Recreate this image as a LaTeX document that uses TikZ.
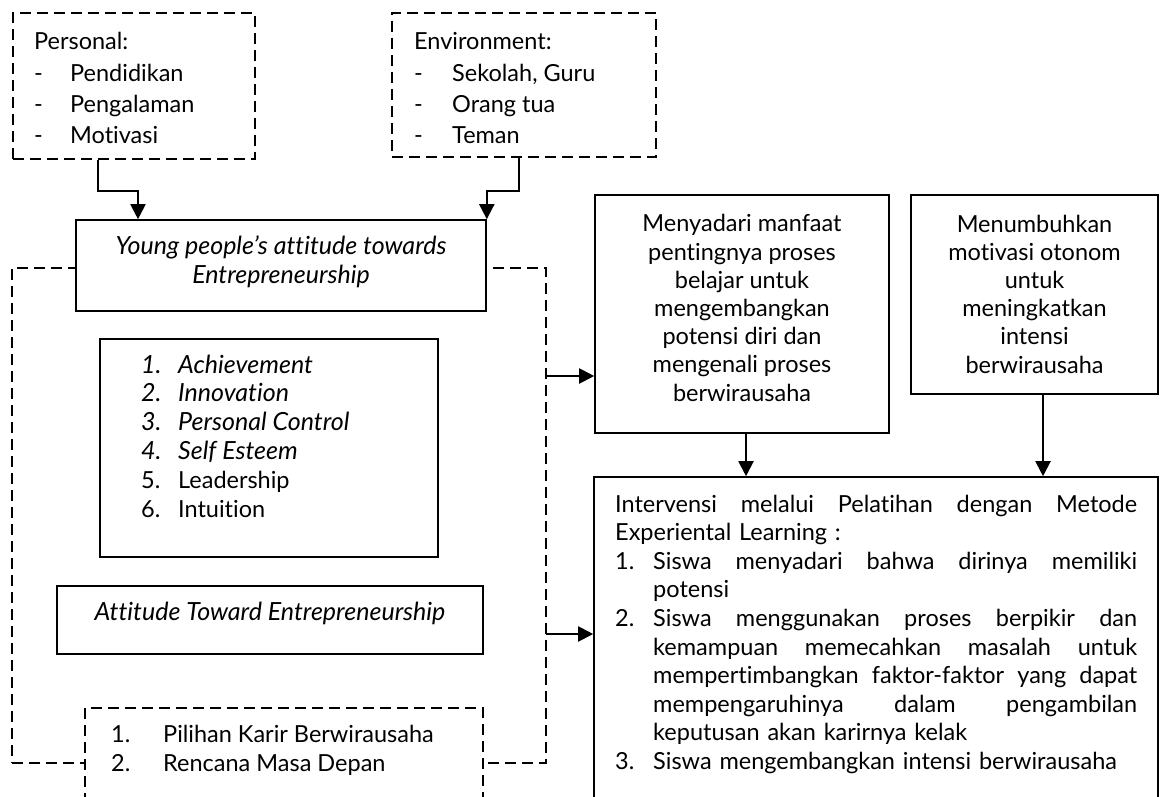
\documentclass[tikz,border=0pt]{standalone}
\usepackage{fontspec}
\setmainfont{Lato}[Ligatures=NoCommon]
\usetikzlibrary{arrows.meta,positioning}
\newcommand{\boxwidth}{1.6pt}
\newcommand{\arrwidth}{2pt}
\newcommand{\numcol}[2]{\makebox[#1][l]{#2}}
\newcommand{\jline}[2]{{\spaceskip=0.28em plus 1fil\makebox[#1][s]{#2}}}
\newcommand{\itsize}{\fontsize{25}{28.8}\selectfont\itshape}

\tikzset{
  frame/.style={draw, line width=\boxwidth, fill=white, inner sep=0pt},
  dframe/.style={draw, line width=2.2pt, dash pattern=on 11pt off 6pt, fill=white, inner sep=0pt},
  txt/.style={inner sep=0pt, font=\fontsize{23.5}{28.6}\selectfont},
  toptxt/.style={txt, font=\fontsize{23.5}{31}\selectfont},
  arr/.style={line width=\arrwidth, -{Triangle[width=15pt,length=15pt]}},
}

\begin{document}
\begin{tikzpicture}[x=1pt, y=-1pt]
\useasboundingbox (0,0) rectangle (1161,797);
\clip (0,0) rectangle (1161,797);
%outer loop
\node[dframe, fill=none, minimum width=534pt, minimum height=495pt] (loop) at (279,515.5) {};
%left column
\node[dframe, minimum width=242pt, minimum height=146pt] (personal) at (134,86) {};
\node[toptxt, align=left, anchor=base west] (personaltxt) at (34,143)
  {Personal:\\ \numcol{36pt}{-}Pendidikan\\ \numcol{36pt}{-}Pengalaman\\ \numcol{36pt}{-}Motivasi};
\node[dframe, minimum width=264pt, minimum height=144pt] (env) at (524,85) {};
\node[toptxt, align=left, anchor=base west] (envtxt) at (414,143)
  {Environment:\\ \numcol{38pt}{-}Sekolah, Guru\\ \numcol{38pt}{-}Orang tua\\ \numcol{38pt}{-}Teman};
\node[frame, minimum width=410pt, minimum height=91pt] (young) at (281,265.5) {};
\node[txt, align=center, anchor=base, font=\itsize] (youngtxt) at (281,283)
  {Young people's attitude towards\\ Entrepreneurship};
\node[frame, minimum width=338pt, minimum height=218pt] (achieve) at (269,448) {};
\node[txt, align=left, anchor=base west, font=\fontsize{23.5}{28.8}\selectfont] (achievetxt) at (141,517)
  {{\itsize\numcol{37pt}{1.}Achievement}\\ {\itsize\numcol{37pt}{2.}Innovation}\\
   {\itsize\numcol{37pt}{3.}Personal Control}\\ {\itsize\numcol{37pt}{4.}Self Esteem}\\
   \numcol{37pt}{5.}Leadership\\ \numcol{37pt}{6.}Intuition};
\node[frame, minimum width=426pt, minimum height=68pt] (attitude) at (270,620) {};
\node[txt, anchor=base, font=\itsize] (attitudetxt) at (270,620) {Attitude Toward Entrepreneurship};
\node[dframe, minimum width=398pt, minimum height=122pt] (pilihan) at (284,769) {};
\node[txt, align=left, anchor=base west] (pilihantxt) at (111,771)
  {\numcol{52pt}{1.}Pilihan Karir Berwirausaha\\ \numcol{52pt}{2.}Rencana Masa Depan};
%right column
\node[frame, minimum width=294pt, minimum height=238pt] (menyadari) at (742,314) {};
\node[txt, align=center, anchor=base, font=\fontsize{23.5}{28.2}\selectfont] (menyadaritxt) at (742,401)
  {Menyadari manfaat\\ pentingnya proses\\ belajar untuk\\ mengembangkan\\ potensi diri dan\\ mengenali proses\\ berwirausaha};
\node[frame, minimum width=247pt, minimum height=199pt] (menumbuhkan) at (1034.5,294.5) {};
\node[txt, align=center, anchor=base, font=\fontsize{23.5}{28.2}\selectfont] (menumbuhkantxt) at (1034.5,373)
  {Menumbuhkan\\ motivasi otonom\\ untuk\\ meningkatkan\\ intensi\\ berwirausaha};
\node[frame, minimum width=564pt, minimum height=353pt] (interv) at (876,653.5) {};
\node[txt, align=left, anchor=base west, text width=522pt] (intervtxt) at (615,512)
  {\jline{522pt}{Intervensi melalui Pelatihan dengan Metode}\\
   Experiental Learning :\\
   \numcol{38pt}{1.}\jline{484pt}{Siswa menyadari bahwa dirinya memiliki}\\
   \hspace*{38pt}potensi\\
   \numcol{38pt}{2.}\jline{484pt}{Siswa menggunakan proses berpikir dan}\\
   \hspace*{38pt}\jline{484pt}{kemampuan memecahkan masalah untuk}\\
   \hspace*{38pt}\jline{484pt}{mempertimbangkan faktor-faktor yang dapat}\\
   \hspace*{38pt}\jline{484pt}{mempengaruhinya dalam pengambilan}\\
   \hspace*{38pt}keputusan akan karirnya kelak\\
   \numcol{38pt}{3.}Siswa mengembangkan intensi berwirausaha};
%connectors
\coordinate (tap1) at (546,376);
\coordinate (tap2) at (546,634);
\draw[arr] ([xshift=-36pt]personal.south) -- ++(0,31) -| ([xshift=-143pt]young.north);
\draw[arr] ([xshift=-5pt]env.south) -- ++(0,33) -| (young.north east);
\draw[arr] (tap1) -- (tap1 -| menyadari.west);
\draw[arr] (tap2) -- (tap2 -| interv.west);
\draw[arr] ([xshift=4pt]menyadari.south) -- ([xshift=4pt]menyadari.south |- interv.north);
\draw[arr] ([xshift=8.5pt]menumbuhkan.south) -- ([xshift=8.5pt]menumbuhkan.south |- interv.north);
\end{tikzpicture}
\end{document}
